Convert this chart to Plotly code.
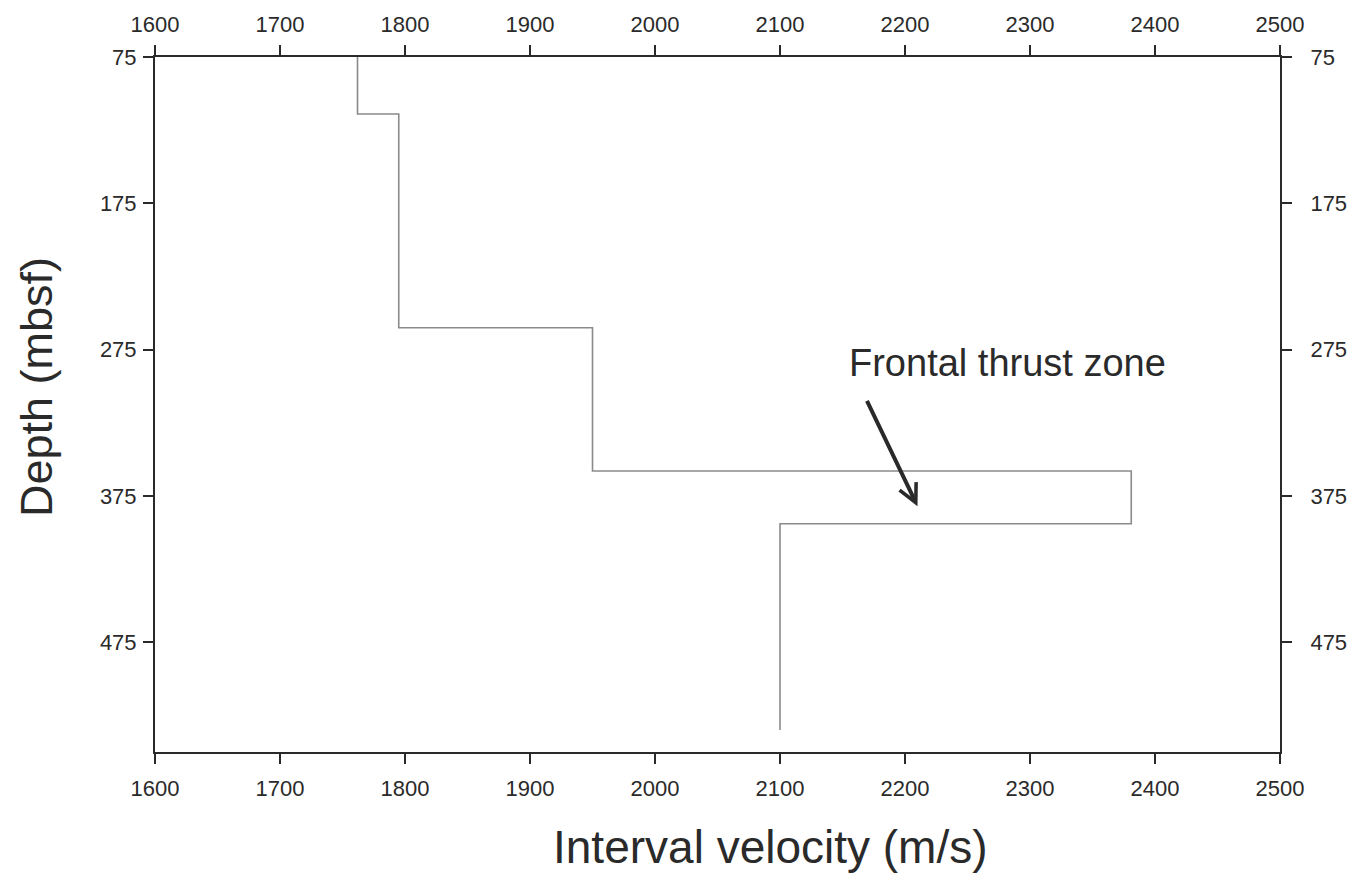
import plotly.graph_objects as go

# Interval velocity model
velocity = [1762, 1795, 1950, 2381, 2100]          # m/s, per interval
depth_top = [75, 114, 260, 358, 394]               # mbsf, top of each interval
depth_bottom_last = 535                            # mbsf, base of last interval

x_ticks = [1600, 1700, 1800, 1900, 2000, 2100, 2200, 2300, 2400, 2500]
y_ticks = [75, 175, 275, 375, 475]
x_range = [1600, 2500]
y_range = [550, 75]

# Build step profile from interval arrays
xs, ys = [], []
bottoms = depth_top[1:] + [depth_bottom_last]
for v, t, b in zip(velocity, depth_top, bottoms):
    xs += [v, v]
    ys += [t, b]

FONT = "Liberation Sans, Arial, Helvetica, sans-serif"
INK = "#2a2a2a"

fig = go.Figure()
fig.add_trace(go.Scatter(x=xs, y=ys, mode="lines",
                         line=dict(color="#8a8a8a", width=1.6),
                         hoverinfo="skip", showlegend=False))
# invisible trace to anchor secondary axes
fig.add_trace(go.Scatter(x=x_range, y=[y_range[1], y_range[0]], mode="markers",
                         marker=dict(opacity=0), xaxis="x2", yaxis="y2",
                         hoverinfo="skip", showlegend=False))

axis_common = dict(showgrid=False, zeroline=False, showline=True,
                   linecolor=INK, linewidth=2, ticks="outside", ticklen=10,
                   tickwidth=2, tickcolor=INK,
                   tickfont=dict(family=FONT, size=22, color=INK))

fig.update_layout(
    width=1365, height=880,
    margin=dict(l=155, r=85, t=54, b=128),
    paper_bgcolor="white", plot_bgcolor="white",
    xaxis=dict(range=x_range, tickvals=x_ticks, side="bottom",
               ticklabelstandoff=6, **axis_common),
    xaxis2=dict(range=x_range, tickvals=x_ticks, side="top", overlaying="x",
                ticklabelstandoff=4, **axis_common),
    yaxis=dict(range=y_range, tickvals=y_ticks, side="left",
               ticklabelstandoff=2, **axis_common),
    yaxis2=dict(range=y_range, tickvals=y_ticks, side="right", overlaying="y",
                ticklabelstandoff=14, **axis_common),
    showlegend=False,
)

fig.add_annotation(text="Interval velocity (m/s)", xref="paper", yref="paper",
                   x=0.5467, y=-0.136, xanchor="center", yanchor="middle",
                   showarrow=False, font=dict(family=FONT, size=46, color=INK))
fig.add_annotation(text="Depth (mbsf)", xref="paper", yref="paper",
                   x=-0.1053, y=0.5244, xanchor="center", yanchor="middle",
                   textangle=-90, showarrow=False,
                   font=dict(family=FONT, size=45, color=INK))
fig.add_annotation(text="Frontal thrust zone", xref="x", yref="y",
                   x=2282, y=284, xanchor="center", yanchor="middle",
                   showarrow=False, font=dict(family=FONT, size=38, color=INK))
fig.add_annotation(x=2210, y=382, ax=2169, ay=309, xref="x", yref="y",
                   axref="x", ayref="y", text="", showarrow=True,
                   arrowhead=5, arrowsize=0.9, arrowwidth=4, arrowcolor=INK)

fig.write_html("out.html")
